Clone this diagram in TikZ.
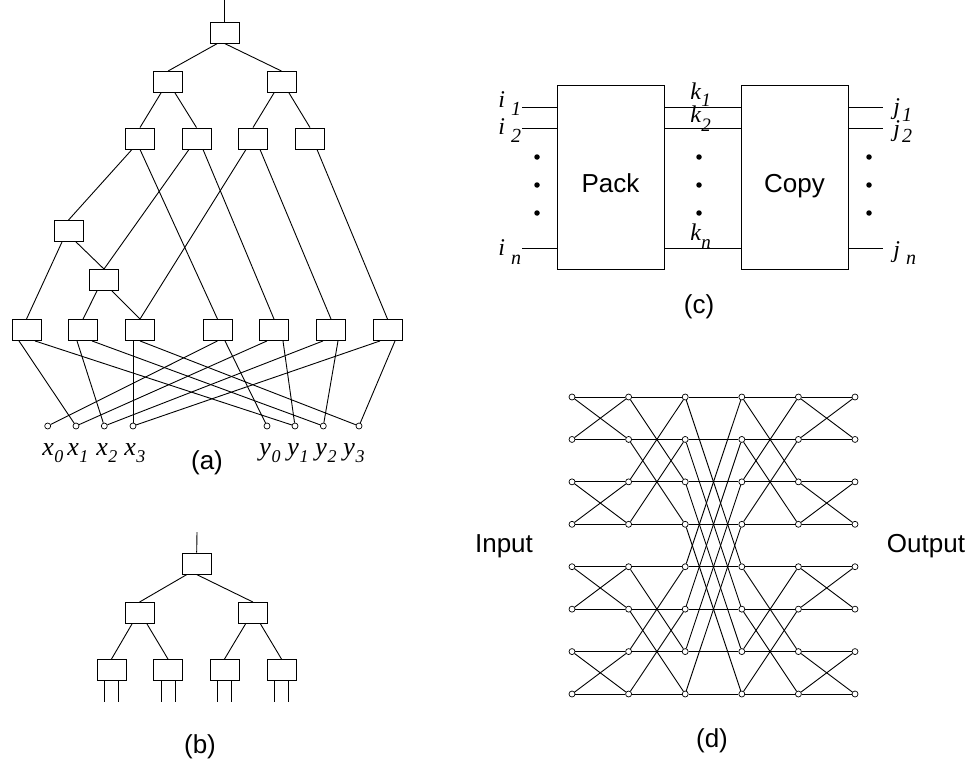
\documentclass[tikz,border=0pt]{standalone}
\usepackage{fontspec}
\setmainfont{Liberation Serif}
\newfontfamily\arialfont{Liberation Sans}
\usetikzlibrary{calc}

% italic symbol with a lowered index: letter, gap, index, drop, index size
\newcommand\symsub[5]{\textit{#1}\hspace{#2}\raisebox{-#4}{\fontsize{#5}{#5}\selectfont\textit{#3}}}

\begin{document}
\begin{tikzpicture}[x=1pt,y=-1pt,line width=0.9pt,
  gate/.style={draw, minimum width=29pt, minimum height=21pt, inner sep=0pt},
  stagebox/.style={draw, minimum width=107pt, minimum height=184pt, inner sep=0pt},
  port/.style={circle, draw, fill=white, minimum size=6pt, inner sep=0pt, line width=0.7pt},
  dotmark/.style={circle, fill=black, minimum size=5.5pt, inner sep=0pt},
  caption/.style={font=\arialfont\fontsize{26}{30}\selectfont, anchor=center, inner sep=0pt},
  boxtext/.style={font=\arialfont\fontsize{26}{30}\selectfont, anchor=base, inner sep=0pt},
  idx/.style={font=\fontsize{26}{30}\selectfont, anchor=base west, inner sep=0pt},
  cidx/.style={font=\fontsize{24}{28}\selectfont, anchor=base west, inner sep=0pt}]

\useasboundingbox (0,0) rectangle (974,771);

% ---------------- (a) ----------------
\coordinate (atop) at (224.5,0);
\node[gate] (r)   at (224.5,32.5) {};
\node[gate] (l2a) at (168,82) {};
\node[gate] (l2b) at (281.5,82) {};
\node[gate] (l3a) at (140,138.5) {};
\node[gate] (l3b) at (196.5,138.5) {};
\node[gate] (l3c) at (253,138.5) {};
\node[gate] (l3d) at (310,138.5) {};
\node[gate] (mA)  at (68.5,231) {};
\node[gate] (mB)  at (104,280) {};
\foreach \n/\x in {b1/26.5,b2/83,b3/140,b4/217.5,b5/274,b6/331,b7/387.5}
  \node[gate] (\n) at (\x,330) {};
\foreach \n/\x in {x0/47.7,x1/76,x2/104.3,x3/133,y0/267,y1/295,y2/323.3,y3/359}
  \node[port] (\n) at (\x,426) {};

\draw (atop) -- (r);
\draw ([xshift=-7]r.south) -- (l2a.north);
\draw (r.south) -- (l2b.north);
\draw ([xshift=-7]l2a.south) -- (l3a.north);
\draw ([xshift=7]l2a.south) -- (l3b.north);
\draw ([xshift=-7.5]l2b.south) -- (l3c.north);
\draw ([xshift=7.5]l2b.south) -- (l3d.north);
\draw ([xshift=-8]l3a.south) -- (mA.north);
\draw (l3a.south) -- (b4.north);
\draw ([xshift=-7.5]l3b.south) -- (mB.north);
\draw ([xshift=6.5]l3b.south) -- (b5.north);
\draw ([xshift=-7]l3c.south) -- (b3.north);
\draw ([xshift=7]l3c.south) -- (b6.north);
\draw ([xshift=7]l3d.south) -- (b7.north);
\draw ([xshift=-6.5]mA.south) -- (b1.north);
\draw ([xshift=7.5]mA.south) -- (mB.north);
\draw ([xshift=-7]mB.south) -- (b2.north);
\draw ([xshift=8]mB.south) -- (b3.north);

\draw ([xshift=-7.5]b1.south) -- (x1);
\draw ([xshift=8.5]b1.south) -- (y1);
\draw ([xshift=-6]b2.south) -- (x2);
\draw ([xshift=9]b2.south) -- (y2);
\draw ([xshift=-7]b3.south) -- (x3);
\draw (b3.south) -- (y3);
\draw (b4.south) -- (x0);
\draw ([xshift=7.5]b4.south) -- (y0);
\draw ([xshift=-7]b5.south) -- (x1);
\draw ([xshift=9]b5.south) -- (y1);
\draw ([xshift=-8]b6.south) -- (x2);
\draw ([xshift=7]b6.south) -- (y2);
\draw ([xshift=-7.5]b7.south) -- (x3);
\draw ([xshift=7.5]b7.south) -- (y3);

\foreach \v/\k/\x in {x/0/42,x/1/67,x/2/96,x/3/124,y/0/259,y/1/287,y/2/315,y/3/343}
  \node[idx] (lab\v\k) at (\x,455) {\symsub{\v}{0.5pt}{\k}{7pt}{18}};

\node[caption] (capa) at (207,463) {(a)};

% ---------------- (b) ----------------
\coordinate (btop) at (197,532);
\node[gate] (br)  at (196.5,563.5) {};
\node[gate] (bla) at (139.5,613) {};
\node[gate] (blb) at (253,613) {};
\foreach \n/\x in {ba/111.5,bb/168,bc/224.5,bd/281.5}
  \node[gate] (\n) at (\x,670) {};
\draw (btop) -- (br);
\draw ([xshift=-9.5]br.south) -- (bla.north);
\draw (br.south) -- (blb.north);
\draw ([xshift=-7.5]bla.south) -- (ba.north);
\draw ([xshift=7.5]bla.south) -- (bb.north);
\draw ([xshift=-7.5]blb.south) -- (bc.north);
\draw ([xshift=7.5]blb.south) -- (bd.north);
\foreach \n in {ba,bb,bc,bd} {
  \draw ([xshift=-7]\n.south) -- ++(0,21);
  \draw ([xshift=7]\n.south) -- ++(0,21);
}
\node[caption] (capb) at (200,747) {(b)};

% ---------------- (c) ----------------
\node[stagebox] (pack) at (610.5,177) {};
\node[stagebox] (copy) at (794.5,177) {};
\node[boxtext] (packtxt) at (610.5,192) {Pack};
\node[boxtext] (copytxt) at (794.5,192) {Copy};
\foreach \k/\y in {1/107,2/128,n/248} {
  \coordinate (in\k) at (522,\y);
  \coordinate (out\k) at (883,\y);
  \draw (in\k) -- (in\k -| pack.west);
  \draw (pack.east |- in\k) -- (copy.west |- in\k);
  \draw (copy.east |- in\k) -- (out\k);
}
\foreach \x/\s in {537/l,699/m,869/r}
  \foreach \y/\t in {157/1,185/2,213/3}
    \node[dotmark] (dot\s\t) at (\x,\y) {};

\node[cidx] (li1) at (498,107) {\symsub{i}{6pt}{1}{8pt}{20}};
\node[cidx] (li2) at (498,134) {\symsub{i}{6pt}{2}{8pt}{20}};
\node[cidx] (lin) at (498,255) {\symsub{i}{6pt}{n}{9pt}{20}};
\node[cidx] (lk1) at (690,99) {\symsub{k}{0pt}{1}{7pt}{19}};
\node[cidx] (lk2) at (690,122) {\symsub{k}{0pt}{2}{9pt}{19}};
\node[cidx] (lkn) at (690,240) {\symsub{k}{0pt}{n}{8pt}{19}};
\node[cidx] (lj1) at (893,114) {\symsub{j}{2pt}{1}{7pt}{20}};
\node[cidx] (lj2) at (893,136) {\symsub{j}{2pt}{2}{6pt}{20}};
\node[cidx] (ljn) at (893,257) {\symsub{j}{6pt}{n}{7pt}{20}};

\node[caption] (capc) at (699,307) {(c)};

% ---------------- (d) ----------------
\foreach \c/\cx in {0/572,1/628.6,2/685.2,3/741.8,4/798.4,5/855}
  \foreach \r in {0,...,7}
    \node[port] (d\c-\r) at (\cx,397+42.43*\r) {};
% straight links along each row
\foreach \c in {0,...,4} {
  \pgfmathtruncatemacro\nx{\c+1}
  \foreach \r in {0,...,7}
    \draw (d\c-\r) -- (d\nx-\r);
}
% butterfly cross links: stride 1, 2, 4, 2, 1
\foreach \c/\d in {0/1,1/2,2/4,3/2,4/1} {
  \pgfmathtruncatemacro\nx{\c+1}
  \foreach \r in {0,...,7} {
    \pgfmathtruncatemacro\p{mod(floor(\r/\d),2)==0 ? \r+\d : \r-\d}
    \draw (d\c-\r) -- (d\nx-\p);
  }
}
\node[boxtext] (inlab) at (504,552) {Input};
\node[boxtext] (outlab) at (926,552) {Output};
\node[caption] (capd) at (712,741) {(d)};

\end{tikzpicture}
\end{document}
